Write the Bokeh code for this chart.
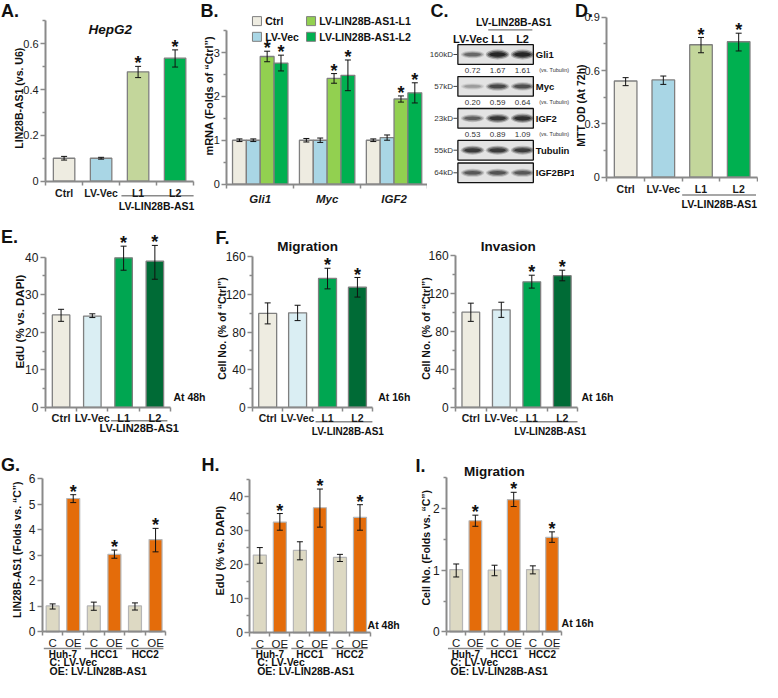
import math
from bokeh.plotting import figure
from bokeh.models import (Range1d, LinearAxis, FixedTicker, CustomJSTickFormatter,
                          ColumnDataSource, Whisker, TeeHead)
from bokeh.layouts import row, column
from bokeh.core.properties import value
from bokeh.embed import file_html
from bokeh.resources import INLINE

FONT = "Liberation Sans"

# ---------------- data ----------------
GROUP4 = ["Ctrl", "LV-Vec", "L1", "L2"]
OE_NAME = "LV-LIN28B-AS1"

# A. HepG2 LIN28B-AS1 (vs. U6)
A_VAL = [0.10, 0.10, 0.477, 0.537]
A_LO = [0.092, 0.096, 0.452, 0.498]
A_HI = [0.108, 0.104, 0.501, 0.573]

# B. mRNA (folds of Ctrl)
B_GENES = ["Gli1", "Myc", "IGF2"]
B_SERIES = ["Ctrl", "LV-Vec", "LV-LIN28B-AS1-L1", "LV-LIN28B-AS1-L2"]
B_CTRL = [1.0, 1.0, 1.0]
B_VEC = [1.0, 1.0, 1.06]
B_L1 = [2.91, 2.41, 1.94]
B_L2 = [2.76, 2.48, 2.08]
B_CTRL_ERR = [0.03, 0.04, 0.03]
B_VEC_ERR = [0.03, 0.05, 0.06]
B_L1_ERR = [0.12, 0.11, 0.07]
B_L2_ERR = [0.18, 0.35, 0.23]
B_SIG = [False, False, True, True]

# C. Western blot
C_LANES = ["LV-Vec", "L1", "L2"]
C_PROT = ["Gli1", "Myc", "IGF2", "Tubulin", "IGF2BP1"]
C_MW = ["160kD", "57kD", "23kD", "55kD", "64kD"]
C_RATIO = [["0.72", "1.67", "1.61"], ["0.20", "0.59", "0.64"], ["0.53", "0.89", "1.09"], None, None]
C_BAND = [[0.5, 1.0, 1.0], [0.25, 0.7, 0.65], [0.55, 0.85, 0.9], [0.8, 0.8, 0.78], [0.6, 0.62, 0.6]]

# D. MTT OD (at 72h)
D_VAL = [0.541, 0.547, 0.745, 0.762]
D_LO = [0.515, 0.522, 0.70, 0.71]
D_HI = [0.56, 0.569, 0.786, 0.81]

# E. EdU (% vs DAPI)
E_VAL = [24.6, 24.3, 39.8, 38.9]
E_LO = [22.9, 23.9, 36.5, 34.1]
E_HI = [26.1, 24.9, 42.9, 43.1]

# F. Migration / Invasion
FM_VAL = [99.8, 100.5, 137.0, 127.7]
FM_LO = [88.7, 92.2, 125.9, 117.2]
FM_HI = [111.0, 108.5, 147.8, 138.0]
FI_VAL = [100.5, 103.0, 132.5, 139.0]
FI_LO = [90.8, 95.0, 125.9, 133.6]
FI_HI = [110.0, 111.0, 139.5, 144.8]
SIG4 = [False, False, True, True]

# G/H/I. cell lines
LINES = ["Huh-7", "HCC1", "HCC2"]
SUB = ["C", "OE"]
G_VAL = [1.02, 5.23, 1.02, 3.04, 1.02, 3.62]
G_LO = [0.90, 5.07, 0.85, 2.89, 0.86, 3.14]
G_HI = [1.10, 5.38, 1.17, 3.21, 1.14, 4.06]
H_VAL = [22.9, 32.6, 24.3, 36.8, 22.2, 34.0]
H_LO = [20.5, 30.2, 21.5, 31.1, 21.0, 30.2]
H_HI = [25.1, 35.1, 26.8, 42.3, 23.1, 37.7]
I_VAL = [1.01, 1.80, 1.00, 2.14, 1.01, 1.53]
I_LO = [0.89, 1.71, 0.91, 2.03, 0.94, 1.45]
I_HI = [1.10, 1.89, 1.08, 2.26, 1.07, 1.62]
SIG6 = [False, True, False, True, False, True]

# ---------------- styles ----------------
COL_CTRL = "#EEECE1"
COL_VEC = "#A9D6E5"
COL_VEC_PALE = "#DAEEF3"
COL_L1_OLIVE = "#C3D69B"
COL_L1_LIME = "#92D050"
COL_L2 = "#00B050"
COL_GREEN = "#00A651"
COL_DKGREEN = "#006B36"
COL_TAN = "#DDD9C3"
COL_ORANGE = "#E46C0A"
AXIS_GRAY = "#8a8a8a"

SX = 758 / 775.0
SY = 678 / 690.0


def ex(r):
    return int(round((r - 3) * SX))


def ey(r):
    return int(round((r - 3) * SY))


class Panel:
    """One figure; ranges chosen so data values land at reference pixel anchors."""

    def __init__(self, box, xa, xb, ya, yb):
        rx0, rx1, ry0, ry1 = box
        self.W = ex(rx1) - ex(rx0)
        self.H = ey(ry1) - ey(ry0)
        self.rx0, self.ry0 = rx0, ry0
        self.fxs = self.W / (rx1 - rx0)
        self.fys = self.H / (ry1 - ry0)
        (xv0, xr0), (xv1, xr1) = xa, xb
        self.kx = (xv1 - xv0) / ((xr1 - xr0) * self.fxs)
        self.xs = xv0 - (xr0 - rx0) * self.fxs * self.kx
        (yv0, yr0), (yv1, yr1) = ya, yb
        self.ky = (yv1 - yv0) / ((yr0 - yr1) * self.fys)
        self.ye = yv0 + (yr0 - ry0) * self.fys * self.ky
        self.p = figure(width=self.W, height=self.H,
                        x_range=Range1d(self.xs, self.xs + self.W * self.kx),
                        y_range=Range1d(self.ye - self.H * self.ky, self.ye),
                        x_axis_type=None, y_axis_type=None,
                        output_backend="svg", toolbar_location=None, min_border=0)
        self.p.outline_line_color = None
        self.p.background_fill_color = "white"
        self.p.border_fill_color = "white"

    def X(self, r):
        return self.xs + (r - self.rx0) * self.fxs * self.kx

    def Y(self, r):
        return self.ye - (r - self.ry0) * self.fys * self.ky

    def dy(self, px):
        return px * self.fys * self.ky

    def textd(self, x, y, s, size, style="bold", align="center", baseline="middle",
              angle=0.0, color="#111111"):
        self.p.text(x=[x], y=[y], text=[s], text_font=value(FONT),
                    text_font_size=f"{size}px", text_font_style=style,
                    text_align=align, text_baseline=baseline, angle=angle,
                    text_color=color)

    def text(self, rx, ry, s, size, **kw):
        self.textd(self.X(rx), self.Y(ry), s, size, **kw)

    def letter(self, rx, ry, s):
        self.text(rx, ry, s, 18, align="left", baseline="top")

    def ytitle(self, rx, ry, s, size=10.5):
        self.text(rx, ry, s, size, angle=math.pi / 2)

    def style(self, ax, size, fstyle):
        ax.axis_line_color = AXIS_GRAY
        ax.axis_line_width = 2
        ax.major_tick_line_color = AXIS_GRAY
        ax.major_tick_line_width = 1.5
        ax.minor_tick_line_color = AXIS_GRAY
        ax.minor_tick_line_width = 1.5
        ax.major_tick_in = 0
        ax.minor_tick_in = 0
        ax.major_label_text_font = FONT
        ax.major_label_text_font_size = f"{size}px"
        ax.major_label_text_font_style = fstyle
        ax.major_label_text_color = "#1a1a1a"

    def yaxis(self, xloc, top, majors, minors, dec=0, size=11):
        code = "return tick == 0 ? '0' : tick.toFixed(%d);" % dec
        ax = LinearAxis(fixed_location=xloc, bounds=(0, top),
                        ticker=FixedTicker(ticks=majors, minor_ticks=minors),
                        formatter=CustomJSTickFormatter(code=code))
        self.style(ax, size, "normal")
        ax.major_tick_out = 5
        ax.minor_tick_out = 3
        ax.major_label_standoff = 2
        self.p.add_layout(ax, "left")

    def xaxis(self, ticks, labels, minors, lo, hi, size=11, fstyle="bold", standoff=2):
        code = ("const i = Math.round(tick);"
                "return (i >= 0 && i < labels.length) ? labels[i] : '';")
        ax = LinearAxis(fixed_location=0, bounds=(lo, hi),
                        ticker=FixedTicker(ticks=list(ticks), minor_ticks=minors),
                        formatter=CustomJSTickFormatter(args=dict(labels=list(labels)), code=code))
        self.style(ax, size, fstyle)
        ax.major_tick_out = 0
        ax.minor_tick_out = 4
        ax.major_label_standoff = standoff
        self.p.add_layout(ax, "below")

    def bars(self, xs, vals, lo, hi, sig, colors, width, line_color="#7f7f7f", lw=1.3):
        src = ColumnDataSource(dict(x=list(xs), top=vals, lo=lo, hi=hi, fill=colors))
        self.p.vbar(x="x", top="top", bottom=0, width=width, fill_color="fill",
                    line_color=line_color, line_width=lw, source=src)
        wh = Whisker(source=src, base="x", lower="lo", upper="hi",
                     line_color="#111111", line_width=1, level="overlay",
                     upper_head=TeeHead(size=6, line_color="#111111", line_width=1),
                     lower_head=TeeHead(size=6, line_color="#111111", line_width=1))
        self.p.add_layout(wh)
        sx = [x for x, s in zip(xs, sig) if s]
        sy = [h + self.dy(3) for h, s in zip(hi, sig) if s]
        self.p.text(x=sx, y=sy, text=["*"] * len(sx), text_font=value(FONT),
                    text_font_size="18px", text_font_style="bold",
                    text_align="center", text_baseline="middle", text_color="#111111")

    def hline(self, x0, x1, y, color=AXIS_GRAY, width=1.5):
        self.p.segment(x0=[x0], y0=[y], x1=[x1], y1=[y], line_color=color, line_width=width)


def four_panel(pn, vals, lo, hi, colors, width, yt, ymaj, ymin, dec, tsize, lsize, standoff=2):
    idx = list(range(len(vals)))
    pn.yaxis(-0.5, yt, ymaj, ymin, dec=dec, size=tsize)
    pn.xaxis(idx, GROUP4, [i - 0.5 for i in range(len(vals) + 1)], -0.5, len(vals) - 0.5,
             size=lsize, standoff=standoff)
    pn.bars(idx, vals, lo, hi, SIG4, colors, width)


# ---------------- A ----------------
A = Panel((3, 205, 3, 222), (-0.5, 49), (3.5, 200), (0, 187), (0.6, 47))
four_panel(A, A_VAL, A_LO, A_HI, [COL_CTRL, COL_VEC, COL_L1_OLIVE, COL_L2], 0.58,
           0.7, [0, 0.2, 0.4, 0.6], [0.1, 0.3, 0.5, 0.7], 1, 11, 10.5)
A.letter(3.5, 3, "A.")
A.text(115, 33, "HepG2", 13.5, style="bold italic")
A.ytitle(22, 102.5, "LIN28B-AS1 (vs. U6)")
A.hline(1.55, 3.5, A.Y(202))
A.textd(2.5, A.Y(212), OE_NAME, 10.5)

# ---------------- B ----------------
B = Panel((205, 440, 3, 222), (-0.5, 234), (2.5, 440), (0, 190), (3, 56))
B.yaxis(-0.5, 3.5, [0, 1, 2, 3], [0.5, 1.5, 2.5, 3.5], dec=0, size=11)
B.xaxis(range(3), B_GENES, [-0.5, 0.5, 1.5, 2.5], -0.5, 2.5, size=11.5,
        fstyle="bold italic", standoff=5)
bw = 0.207
b_cols = [COL_CTRL, COL_VEC, COL_L1_LIME, COL_L2]
b_series = [(B_CTRL, B_CTRL_ERR), (B_VEC, B_VEC_ERR), (B_L1, B_L1_ERR), (B_L2, B_L2_ERR)]
for j, (vals, err) in enumerate(b_series):
    xs = [g + (j - 1.5) * bw for g in range(len(B_GENES))]
    B.bars(xs, vals, [v - e for v, e in zip(vals, err)], [v + e for v, e in zip(vals, err)],
           [B_SIG[j]] * len(vals), [b_cols[j]] * len(vals), bw)
B.letter(207, 3.5, "B.")
B.ytitle(216, 100, "mRNA (Folds of \u201cCtrl\u201d)", 11)
for j, name in enumerate(B_SERIES):
    colx = 265 if j < 2 else 320.5
    rowy = 24 if j % 2 == 0 else 40
    B.p.scatter(x=[B.X(colx)], y=[B.Y(rowy)], marker="square", size=9,
                fill_color=b_cols[j], line_color="#7f7f7f", line_width=1)
    B.text(colx + 8.5, rowy, name, 10.5, align="left")

# ---------------- C (western blot) ----------------
C = Panel((440, 590, 3, 222), (440, 440), (590, 590), (0, 222), (219, 3))
box_l, box_r = 471, 548
lane_x = [486 + 25.5 * i for i in range(len(C_LANES))]
C.letter(443, 3, "C.")
C.text(528, 25, OE_NAME, 10.5)
C.p.segment(x0=[C.X(502)], y0=[C.Y(33)], x1=[C.X(547)], y1=[C.Y(33)],
            line_color="#777777", line_width=1.2)
for i, lane in enumerate(C_LANES):
    C.text(lane_x[i] - (2 if i == 0 else 0), 42, lane, 11)
top = 48
for r, prot in enumerate(C_PROT):
    y0, y1 = top, top + 20
    yc = top + 10
    C.p.quad(left=[C.X(box_l)], right=[C.X(box_r)], top=[C.Y(y0)], bottom=[C.Y(y1)],
             fill_color="#e3e3e3", line_color="#111111", line_width=1.3)
    for (w, h, a) in [(24, 10, 0.22), (21, 7.5, 0.4), (17, 4.5, 0.65)]:
        alphas = [min(1.0, a * inten * 1.2) for inten in C_BAND[r]]
        hh = [h * (0.55 + 0.45 * inten) for inten in C_BAND[r]]
        C.p.ellipse(x=[C.X(x) for x in lane_x], y=[C.Y(yc)] * 3, width=w,
                    height=[C.dy(v) for v in hh], fill_color="#151515",
                    fill_alpha=alphas, line_color=None)
    C.text(466, yc, C_MW[r], 8, style="normal", align="right", color="#333333")
    C.p.segment(x0=[C.X(466.5)], y0=[C.Y(yc)], x1=[C.X(box_l)], y1=[C.Y(yc)],
                line_color="#444444", line_width=1)
    C.text(550.5, yc, prot, 9.5, align="left")
    if C_RATIO[r] is not None:
        for i, s in enumerate(C_RATIO[r]):
            C.text(lane_x[i], y1 + 6, s, 8, style="normal", color="#333333")
        C.text(554, y1 + 6, "(vs. Tubulin)", 5.5, style="normal", align="left", color="#333333")
        top = y1 + 12.5
    else:
        top = y1 + 3

# ---------------- D ----------------
D = Panel((590, 778, 3, 222), (-0.5, 623), (3.5, 777), (0, 183), (0.9, 20))
four_panel(D, D_VAL, D_LO, D_HI, [COL_CTRL, COL_VEC, COL_L1_OLIVE, COL_L2], 0.6,
           0.9, [0, 0.3, 0.6, 0.9], [0.15, 0.45, 0.75], 1, 11, 10.5)
D.letter(590.5, 3, "D.")
D.ytitle(597, 110, "MTT OD (At 72h)")
D.hline(1.5, 3.46, D.Y(201))
D.text(738, 210, OE_NAME, 10.5)

# ---------------- E ----------------
E = Panel((3, 220, 222, 452), (-0.5, 49), (3.5, 177), (0, 417.3), (40, 264.3))
four_panel(E, E_VAL, E_LO, E_HI, [COL_CTRL, COL_VEC_PALE, COL_GREEN, COL_DKGREEN], 0.56,
           40, [0, 10, 20, 30, 40], [5, 15, 25, 35], 0, 12, 11, standoff=1)
E.letter(3.5, 234, "E.")
E.ytitle(23, 330, "EdU (% vs. DAPI)", 11.5)
E.hline(1.6, 3.4, E.Y(431))
E.textd(2.5, E.Y(438.5), OE_NAME, 11)
E.text(180, 407, "At 48h", 10.5, align="left")

# ---------------- F ----------------
F1 = Panel((220, 430, 222, 452), (-0.5, 261), (3.5, 383), (0, 417.3), (160, 264))
four_panel(F1, FM_VAL, FM_LO, FM_HI, [COL_CTRL, COL_VEC_PALE, COL_GREEN, COL_DKGREEN], 0.6,
           160, [0, 40, 80, 120, 160], [20, 60, 100, 140], 0, 12, 10.5, standoff=1)
F1.letter(223, 235, "F.")
F1.text(317, 254, "Migration", 13.5)
F1.ytitle(230, 337, "Cell No. (% of \u201cCtrl\u201d)")
F1.hline(1.6, 3.5, F1.Y(432))
F1.text(358, 442, OE_NAME, 10)
F1.text(389, 407, "At 16h", 10.5, align="left")

F2 = Panel((430, 635, 222, 452), (-0.5, 468), (3.5, 593), (0, 417.3), (160, 263))
four_panel(F2, FI_VAL, FI_LO, FI_HI, [COL_CTRL, COL_VEC_PALE, COL_GREEN, COL_DKGREEN], 0.58,
           160, [0, 40, 80, 120, 160], [20, 60, 100, 140], 0, 12, 10.5, standoff=1)
F2.text(522, 254, "Invasion", 13.5)
F2.ytitle(438, 337, "Cell No. (% of \u201cCtrl\u201d)")
F2.hline(1.6, 3.5, F2.Y(432))
F2.text(565, 442, OE_NAME, 10)
F2.text(597, 407, "At 16h", 10.5, align="left")


# ---------------- G / H / I ----------------
def line_panel(pn, vals, lo, hi, width, yt, ymaj, ymin, foot_x):
    idx = list(range(len(vals)))
    labels = [SUB[i % 2] for i in idx]
    cols = [COL_TAN if i % 2 == 0 else COL_ORANGE for i in idx]
    pn.yaxis(-0.5, yt, ymaj, ymin, dec=0, size=12)
    pn.xaxis(idx, labels, [i - 0.5 for i in range(len(vals) + 1)], -0.5, len(vals) - 0.5,
             size=11.5, fstyle="normal", standoff=1)
    pn.bars(idx, vals, lo, hi, SIG6, cols, width, line_color="#b5b5b5", lw=1.2)
    for g, name in enumerate(LINES):
        pn.hline(2 * g - 0.43, 2 * g + 1.38, pn.Y(662.5))
        pn.textd(2 * g + 0.5, pn.Y(668.8), name, 10)
    pn.text(foot_x, 676, "C: LV-Vec", 10.5, align="left")
    pn.text(foot_x, 685.5, "OE: " + OE_NAME, 10.5, align="left")


G = Panel((3, 205, 452, 693), (-0.5, 45.7), (5.5, 171.7), (0, 645.7), (6, 490))
line_panel(G, G_VAL, G_LO, G_HI, 0.63, 6, [0, 1, 2, 3, 4, 5, 6], [], 53)
G.letter(3.5, 466, "G.")
G.ytitle(20, 562, "LIN28B-AS1 (Folds vs. \u201cC\u201d)")

H = Panel((205, 425, 452, 693), (-0.5, 257.5), (5.5, 380.5), (0, 646.7), (40, 508.3))
line_panel(H, H_VAL, H_LO, H_HI, 0.65, 45, [0, 10, 20, 30, 40], [5, 15, 25, 35, 45], 265)
H.letter(208, 466, "H.")
H.ytitle(227, 563, "EdU (% vs. DAPI)", 11)
H.text(378, 639, "At 48h", 10.5, align="left")

I = Panel((425, 620, 452, 693), (-0.5, 459), (5.5, 577), (0, 645.7), (2, 520))
line_panel(I, I_VAL, I_LO, I_HI, 0.66, 2.5, [0, 1, 2], [0.5, 1.5, 2.5], 463)
I.letter(427, 467, "I.")
I.text(508, 482, "Migration", 13.5)
I.ytitle(438, 560, "Cell No. (Folds vs. \u201cC\u201d)")
I.text(577, 637, "At 16h", 10.5, align="left")

layout = column(
    row(A.p, B.p, C.p, D.p),
    row(E.p, F1.p, F2.p),
    row(G.p, H.p, I.p),
)

open("out.html", "w").write(file_html(layout, INLINE))
